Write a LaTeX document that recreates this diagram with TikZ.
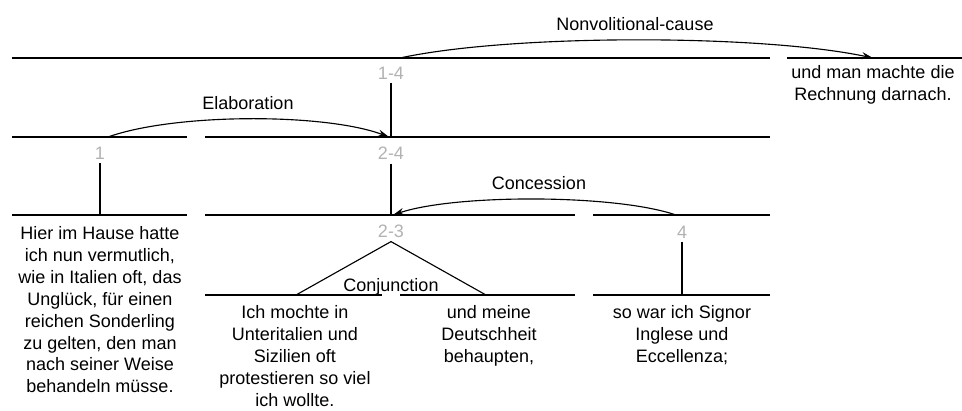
\documentclass[tikz,border=0pt]{standalone}
\usepackage{fontspec}
\setmainfont{Liberation Sans}
\usetikzlibrary{arrows.meta}
\definecolor{spangray}{RGB}{178,178,178}
\tikzset{
  span/.style={line width=0.8pt},
  rel/.style={line width=0.8pt,-{Stealth[length=8pt,width=5pt]}},
  spanlabel/.style={text=spangray,inner sep=0pt,outer sep=3pt},
  relname/.style={inner sep=0pt},
  edu/.style={align=center,inner sep=0pt,anchor=north},
}
\begin{document}
\begin{tikzpicture}[x=0.025cm,y=-0.025cm,font=\fontsize{12.8pt}{15.6pt}\selectfont]
\useasboundingbox (0,0) rectangle (962,410);
\draw[span] (12,58) -- (770,58);
\draw[span] (787,58) -- (962,58);
\draw[span] (12,137) -- (187,137);
\draw[span] (205,137) -- (770,137);
\draw[span] (12,215) -- (187,215);
\draw[span] (205,215) -- (575,215);
\draw[span] (593,215) -- (770,215);
\draw[span] (205,295) -- (382,295);
\draw[span] (400,295) -- (575,295);
\draw[span] (593,295) -- (770,295);
\node[spanlabel] (s14) at (391,73) {1-4};
\node[spanlabel] (s1) at (100,153) {1};
\node[spanlabel] (s24) at (391,153) {2-4};
\node[spanlabel] (s23) at (391,231) {2-3};
\node[spanlabel] (s4) at (682,232) {4};
\coordinate (t14) at (391,137);
\coordinate (t1) at (100,215);
\coordinate (t24) at (391,215);
\coordinate (t4) at (682,295);
\coordinate (c2) at (296,295);
\coordinate (c3) at (486,295);
\draw[span] (s14.south) -- (t14);
\draw[span] (s1.south) -- (t1);
\draw[span] (s24.south) -- (t24);
\draw[span] (s4.south) -- (t4);
\draw[span] (c2) -- (s23.south) -- (c3);
\coordinate (nvc-a) at (400,58);
\coordinate (nvc-b) at (873,58);
\coordinate (elab-a) at (108,137);
\coordinate (elab-b) at (389,137);
\coordinate (conc-a) at (676,215);
\coordinate (conc-b) at (393,215);
\draw[rel] (nvc-a) .. controls (510,34) and (760,34) .. (nvc-b);
\draw[rel] (elab-a) .. controls (175,113) and (325,113) .. (elab-b);
\draw[rel] (conc-a) .. controls (615,194) and (455,194) .. (conc-b);
\node[relname] (nvc) at (635,24) {Nonvolitional-cause};
\node[relname] (elab) at (248,103) {Elaboration};
\node[relname] (conc) at (539,183) {Concession};
\node[relname] (conj) at (391,287) {Conjunction};
\node[edu] (e0) at (873,65) {und man machte die\\Rechnung darnach.};
\node[edu] (e1) at (100,226) {Hier im Hause hatte\\ich nun vermutlich,\\wie in Italien oft, das\\Unglück, für einen\\reichen Sonderling\\zu gelten, den man\\nach seiner Weise\\behandeln müsse.};
\node[edu] (e2) at (295,305) {Ich mochte in\\Unteritalien und\\Sizilien oft\\protestieren so viel\\ich wollte.};
\node[edu] (e3) at (489,305) {und meine\\Deutschheit\\behaupten,};
\node[edu] (e4) at (682,305) {so war ich Signor\\Inglese und\\Eccellenza;};
\end{tikzpicture}
\end{document}
